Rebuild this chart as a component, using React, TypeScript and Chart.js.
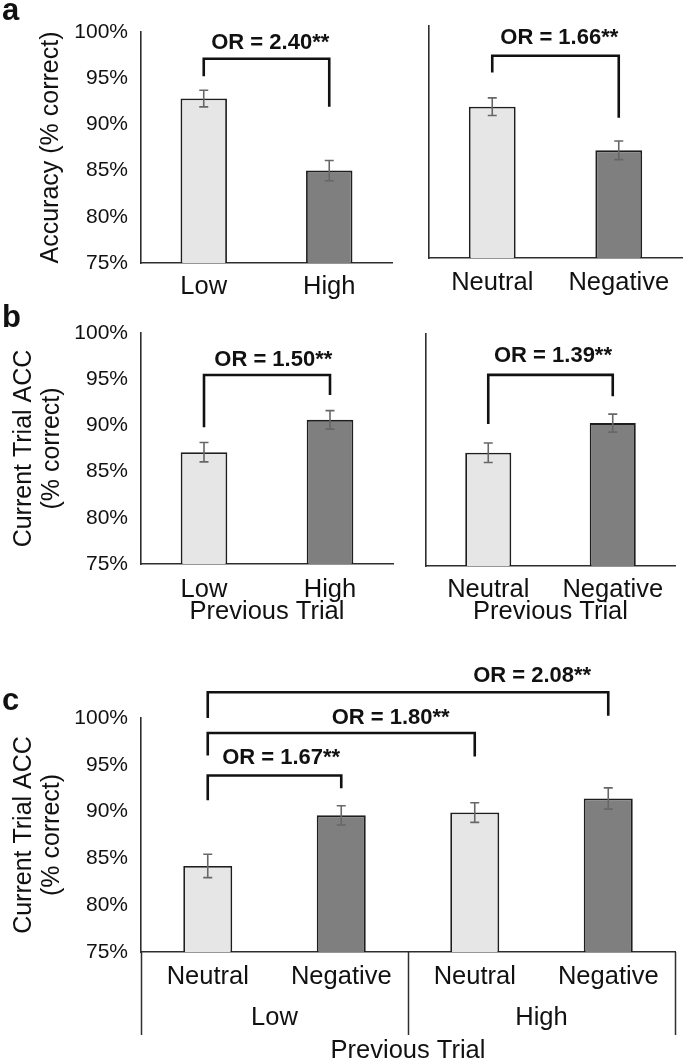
import React, { useEffect, useRef } from 'react';
import { Chart, registerables } from 'chart.js';

Chart.register(...registerables);

// ---------------- data ----------------
const yTicks = [75, 80, 85, 90, 95, 100];

const loadLabels = ['Low', 'High'];
const valenceLabels = ['Neutral', 'Negative'];

const aLoadAcc = [92.8, 85.0];
const aLoadErr = [0.9, 1.1];
const aValenceAcc = [91.3, 86.6];
const aValenceErr = [0.95, 1.0];

const bLoadAcc = [87.1, 90.6];
const bLoadErr = [1.05, 1.0];
const bValenceAcc = [87.2, 90.4];
const bValenceErr = [1.05, 0.97];

const cLabels = ['Neutral', 'Negative', 'Neutral', 'Negative'];
const cGroups = ['Low', 'High'];
const cAcc = [84.2, 89.6, 89.9, 91.4];
const cErr = [1.25, 1.03, 1.05, 1.14];

const orA = ['OR = 2.40**', 'OR = 1.66**'];
const orB = ['OR = 1.50**', 'OR = 1.39**'];
const orC = ['OR = 1.67**', 'OR = 1.80**', 'OR = 2.08**'];

// ---------------- styles ----------------
const W = 685;
const H = 1062;
const FONT = "'Liberation Sans', Arial, Helvetica, sans-serif";
const LIGHT = '#e6e6e6';
const DARK = '#7f7f7f';
const EDGE = '#1e1e1e';
const AXIS = '#2e2e2e';
const ERR = '#676767';
const INK = '#111111';
const CAT_SIZE = 25.5;

type Bracket = {
  from: number; to: number; top: number; leftEnd: number; rightEnd: number;
  textAt: number; textLevel: number; text: string;
};

type Spec = {
  labels: string[];
  values: number[];
  errors: number[];
  colors: string[];
  barPct: number;
  padLeft: number;
  yWidth: number;
  right: number;
  top: number;
  bottom: number;
  xHeight: number;
  xPad: number;
  x2Height?: number;
  showTicks: boolean;
  yTitle?: string | string[];
  yTitlePad?: number;
  xTitle?: string;
  groups?: string[];
  brackets: Bracket[];
  letter?: { text: string; x: number; y: number };
  separators?: number[];
};

function makePlugin(spec: Spec) {
  return {
    id: 'extras',
    afterDatasetsDraw(chart: any) {
      const ctx = chart.ctx;
      const xs = chart.scales.x;
      const ys = chart.scales.y;
      const meta = chart.getDatasetMeta(0);
      ctx.save();
      // error bars
      ctx.strokeStyle = ERR;
      ctx.lineWidth = 1.6;
      meta.data.forEach((el: any, i: number) => {
        const v = spec.values[i];
        const e = spec.errors[i];
        const x = el.x;
        const yT = ys.getPixelForValue(v + e);
        const yB = ys.getPixelForValue(v - e);
        ctx.beginPath();
        ctx.moveTo(x, yT); ctx.lineTo(x, yB);
        ctx.moveTo(x - 4.5, yT); ctx.lineTo(x + 4.5, yT);
        ctx.moveTo(x - 4.5, yB); ctx.lineTo(x + 4.5, yB);
        ctx.stroke();
      });
      // brackets
      ctx.strokeStyle = INK;
      ctx.lineWidth = 2.6;
      ctx.lineJoin = 'miter';
      ctx.fillStyle = INK;
      ctx.font = `bold 22px ${FONT}`;
      ctx.textAlign = 'center';
      ctx.textBaseline = 'middle';
      for (const b of spec.brackets) {
        const x1 = xs.getPixelForValue(b.from);
        const x2 = xs.getPixelForValue(b.to);
        const yh = ys.getPixelForValue(b.top);
        const yl = ys.getPixelForValue(b.leftEnd);
        const yr = ys.getPixelForValue(b.rightEnd);
        ctx.beginPath();
        ctx.moveTo(x1, yl); ctx.lineTo(x1, yh); ctx.lineTo(x2, yh); ctx.lineTo(x2, yr);
        ctx.stroke();
        ctx.fillText(b.text, xs.getPixelForValue(b.textAt), ys.getPixelForValue(b.textLevel));
      }
      // group separators
      if (spec.separators) {
        ctx.strokeStyle = AXIS;
        ctx.lineWidth = 1.5;
        const y0 = chart.chartArea.bottom;
        for (const s of spec.separators) {
          const x = Math.round(xs.getPixelForValue(s)) + 0.5;
          ctx.beginPath();
          ctx.moveTo(x, y0); ctx.lineTo(x, y0 + 83);
          ctx.stroke();
        }
      }
      // panel letter
      if (spec.letter) {
        ctx.font = `bold 31px ${FONT}`;
        ctx.textAlign = 'left';
        ctx.textBaseline = 'alphabetic';
        ctx.fillStyle = INK;
        ctx.fillText(spec.letter.text, spec.letter.x, spec.letter.y);
      }
      ctx.restore();
    },
  };
}

function makeConfig(spec: Spec): any {
  const xTotal = spec.xHeight + (spec.x2Height || 0);
  const scales: any = {
    y: {
      min: 75,
      max: 100,
      afterBuildTicks: (s: any) => { s.ticks = yTicks.map((v) => ({ value: v })); },
      afterFit: (s: any) => { s.width = spec.yWidth; },
      grid: { display: false, drawTicks: false },
      border: { display: true, color: AXIS, width: 1.6 },
      ticks: {
        display: spec.showTicks,
        padding: 13,
        color: INK,
        font: { size: 21, family: FONT },
        callback: (v: any) => v + '%',
      },
      title: spec.yTitle
        ? {
            display: true,
            text: spec.yTitle,
            color: INK,
            font: { size: 25, family: FONT, lineHeight: 1.12 },
            padding: { top: spec.yTitlePad || 0, bottom: 0 },
          }
        : { display: false },
    },
    x: {
      type: 'category',
      offset: true,
      weight: 0,
      afterFit: (s: any) => { s.height = spec.xHeight; },
      grid: { display: false, drawTicks: false },
      border: { display: true, color: AXIS, width: 1.6 },
      ticks: {
        padding: spec.xPad,
        color: INK,
        font: { size: CAT_SIZE, family: FONT, lineHeight: 1.2 },
        maxRotation: 0,
        autoSkip: false,
      },
      title: spec.xTitle && !spec.groups
        ? {
            display: true,
            text: spec.xTitle,
            color: INK,
            font: { size: CAT_SIZE, family: FONT, lineHeight: 1.2 },
            padding: { top: 0, bottom: 0 },
          }
        : { display: false },
    },
  };
  if (spec.groups) {
    scales.x2 = {
      type: 'category',
      labels: spec.groups,
      position: 'bottom',
      offset: true,
      weight: 1,
      afterFit: (s: any) => { s.height = spec.x2Height; },
      grid: { display: false, drawTicks: false },
      border: { display: false },
      ticks: {
        padding: 5,
        color: INK,
        font: { size: CAT_SIZE, family: FONT, lineHeight: 1.2 },
        maxRotation: 0,
        autoSkip: false,
      },
      title: {
        display: true,
        text: spec.xTitle,
        color: INK,
        font: { size: CAT_SIZE, family: FONT, lineHeight: 0.8 },
        padding: { top: 0, bottom: 0 },
      },
    };
  }
  return {
    type: 'bar',
    data: {
      labels: spec.labels,
      datasets: [
        {
          data: spec.values,
          backgroundColor: spec.colors,
          borderColor: EDGE,
          borderWidth: 1.8,
          borderSkipped: false,
          barPercentage: spec.barPct,
          categoryPercentage: 1,
        },
      ],
    },
    options: {
      animation: false,
      responsive: false,
      events: [],
      layout: {
        padding: {
          left: spec.padLeft,
          right: W - spec.right,
          top: spec.top,
          bottom: H - spec.bottom - xTotal,
        },
      },
      plugins: { legend: { display: false }, tooltip: { enabled: false } },
      scales,
    },
    plugins: [makePlugin(spec)],
  };
}

const specs: Spec[] = [
  {
    labels: loadLabels, values: aLoadAcc, errors: aLoadErr, colors: [LIGHT, DARK], barPct: 0.37,
    padLeft: 0, yWidth: 141, right: 392, top: 32, bottom: 263, xHeight: 40, xPad: 9,
    showTicks: true, yTitle: 'Accuracy (% correct)', yTitlePad: 37,
    brackets: [{ from: 0, to: 1, top: 97.1, leftEnd: 95.2, rightEnd: 91.9, textAt: 0.53, textLevel: 98.8, text: orA[0] }],
    letter: { text: 'a', x: 2, y: 20 },
  },
  {
    labels: valenceLabels, values: aValenceAcc, errors: aValenceErr, colors: [LIGHT, DARK], barPct: 0.37,
    padLeft: 429, yWidth: 0, right: 682, top: 26, bottom: 258, xHeight: 40, xPad: 10,
    showTicks: false,
    brackets: [{ from: 0, to: 1, top: 96.8, leftEnd: 95.0, rightEnd: 90.1, textAt: 0.53, textLevel: 98.7, text: orA[1] }],
  },
  {
    labels: loadLabels, values: bLoadAcc, errors: bLoadErr, colors: [LIGHT, DARK], barPct: 0.37,
    padLeft: 0, yWidth: 141, right: 393, top: 333, bottom: 564, xHeight: 63, xPad: 11,
    showTicks: true, yTitle: ['Current Trial ACC', '(% correct)'], yTitlePad: 10, xTitle: 'Previous Trial',
    brackets: [{ from: 0, to: 1, top: 95.45, leftEnd: 89.8, rightEnd: 93.3, textAt: 0.55, textLevel: 97.1, text: orB[0] }],
    letter: { text: 'b', x: 2, y: 327 },
  },
  {
    labels: valenceLabels, values: bValenceAcc, errors: bValenceErr, colors: [LIGHT, DARK], barPct: 0.37,
    padLeft: 426, yWidth: 0, right: 675, top: 334, bottom: 566, xHeight: 61, xPad: 9,
    showTicks: false, xTitle: 'Previous Trial',
    brackets: [{ from: 0, to: 1, top: 95.6, leftEnd: 90.3, rightEnd: 93.3, textAt: 0.52, textLevel: 97.6, text: orB[1] }],
  },
  {
    labels: cLabels, values: cAcc, errors: cErr, colors: [LIGHT, DARK, LIGHT, DARK], barPct: 0.367,
    padLeft: 0, yWidth: 141, right: 675, top: 718, bottom: 952, xHeight: 46, xPad: 10, x2Height: 63,
    showTicks: true, yTitle: ['Current Trial ACC', '(% correct)'], yTitlePad: 10, xTitle: 'Previous Trial',
    groups: cGroups,
    brackets: [
      { from: 0, to: 1, top: 93.85, leftEnd: 91.2, rightEnd: 92.5, textAt: 0.55, textLevel: 95.7, text: orC[0] },
      { from: 0, to: 2, top: 98.4, leftEnd: 96.0, rightEnd: 95.9, textAt: 1.37, textLevel: 100.0, text: orC[1] },
      { from: 0, to: 3, top: 102.75, leftEnd: 100.0, rightEnd: 100.25, textAt: 2.43, textLevel: 104.45, text: orC[2] },
    ],
    separators: [-0.5, 1.5, 3.5],
    letter: { text: 'c', x: 2, y: 710 },
  },
];

function Panel({ spec }: { spec: Spec }) {
  const ref = useRef<HTMLCanvasElement | null>(null);
  useEffect(() => {
    const chart = new Chart(ref.current as HTMLCanvasElement, makeConfig(spec));
    return () => chart.destroy();
  }, [spec]);
  return (
    <canvas
      ref={ref}
      width={W}
      height={H}
      style={{ position: 'absolute', left: 0, top: 0, width: W, height: H }}
    />
  );
}

export default function App() {
  return (
    <div
      style={{
        position: 'absolute',
        left: 0,
        top: 0,
        width: W,
        height: H,
        overflow: 'hidden',
        background: '#ffffff',
      }}
    >
      {specs.map((s, i) => (
        <Panel key={i} spec={s} />
      ))}
    </div>
  );
}
